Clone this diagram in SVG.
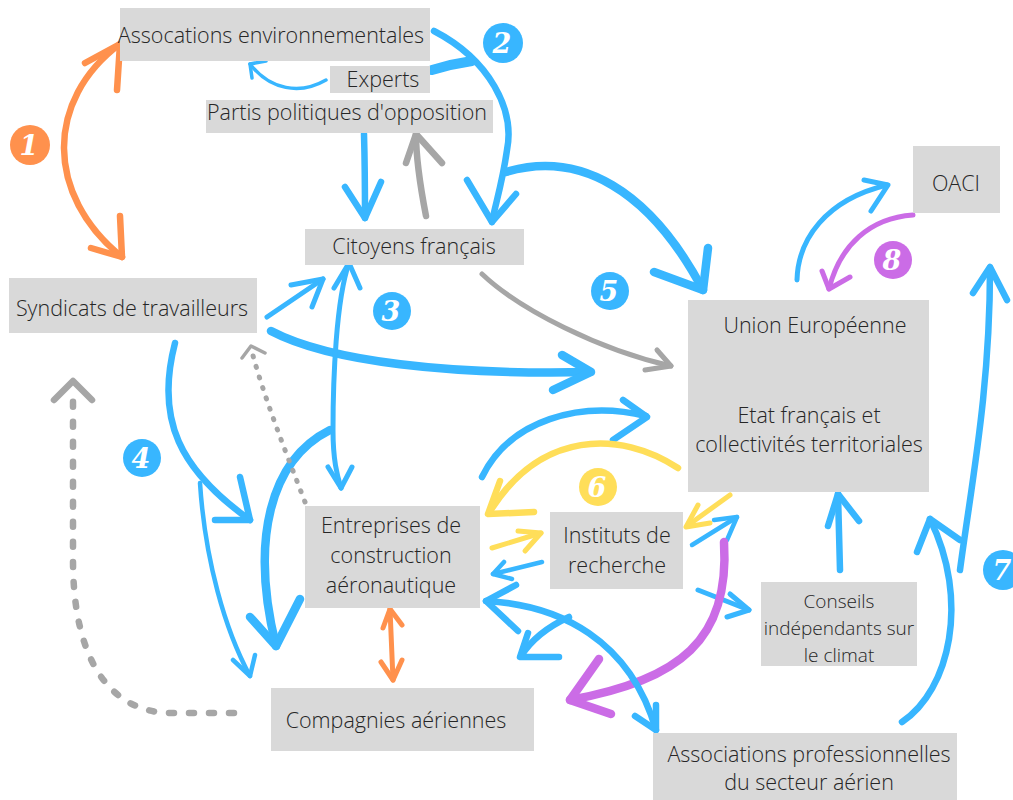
<svg xmlns="http://www.w3.org/2000/svg" width="1013" height="800" viewBox="0 0 1013 800">
<style>
.box{fill:#D9D9D9}
.t{font-family:"Open Sans","Liberation Sans",sans-serif;font-weight:300;font-size:21.5px;fill:#262626;text-anchor:middle}
.ts{font-size:19px}
.c{fill:none;stroke-linecap:round;stroke-linejoin:round}
.b{stroke:#38B6FF}.g{stroke:#A6A6A6}.o{stroke:#FF914D}.y{stroke:#FFDE59}.p{stroke:#CB6CE6}
.w3{stroke-width:3.5}.w4{stroke-width:4.5}.w5{stroke-width:5}.w6{stroke-width:6.5}.w8{stroke-width:8.5}.w10{stroke-width:10}
.dot{stroke-dasharray:1 10}.dash{stroke-dasharray:5 15}
.badge text{font-family:"DejaVu Serif",serif;font-style:italic;font-weight:bold;font-size:27px;fill:#fff;text-anchor:middle}
</style>
<rect width="1013" height="800" fill="#fff"/>
<g id="connectors">
<path class="c o w6" d="M120,44 C45,100 45,195 122,257"/>
<path class="c o w6" d="M85,63 L120,44 L117,90"/>
<path class="c o w6" d="M91,248 L122,257 L120,216"/>
<path class="c b w6" d="M434,31 C490,60 515,110 507,150 C502,185 495,205 492,222"/>
<path class="c b w6" d="M467,180 L492,222 L516,194"/>
<path class="c b w10" d="M432,70 C445,66 458,63 472,61"/>
<path class="c b w3" d="M326,80 C300,95 270,90 250,64"/>
<path class="c b w3" d="M266,61 L250,64 L252,78"/>
<path class="c b w6" d="M364,134 C365,170 365,195 365,218"/>
<path class="c b w6" d="M345,187 L365,218 L381,182"/>
<path class="c g w6" d="M426,216 C420,185 416,160 416,134"/>
<path class="c g w6" d="M406,163 L416,134 L442,163"/>
<path class="c b w8" d="M506,172 C580,150 650,190 703,290"/>
<path class="c b w8" d="M654,272 L703,290 L708,248"/>
<path class="c b w8" d="M271,331 C330,362 450,375 590,372"/>
<path class="c b w8" d="M562,355 L591,372 L553,390"/>
<path class="c g w5" d="M482,274 C520,310 600,350 671,366"/>
<path class="c g w5" d="M657,350 L671,366 L645,370"/>
<path class="c b w5" d="M267,317 L323,279"/>
<path class="c b w5" d="M291,285 L323,279 L312,307"/>
<path class="c b w5" d="M349,263 C336,300 333,380 333,430 C333,460 337,475 341,488"/>
<path class="c b w5" d="M334,288 L349,263 L360,288"/>
<path class="c b w5" d="M328,467 L341,488 L352,467"/>
<path class="c b w6" d="M175,343 C155,420 180,470 250,520"/>
<path class="c b w6" d="M240,477 L250,520 L215,520"/>
<path class="c b w4" d="M200,483 C205,560 225,630 250,676"/>
<path class="c b w4" d="M233,660 L250,676 L255,655"/>
<path class="c b w8" d="M330,430 C270,460 250,540 276,646"/>
<path class="c b w8" d="M250,617 L276,646 L300,599"/>
<path class="c g w5 dot" d="M305,502 C285,450 265,400 252,352"/>
<path class="c g w3" d="M242,358 L251,346 L265,353"/>
<path class="c g w6 dash" d="M234,713 L170,713 C110,712 73,660 73,560 L73,398"/>
<path class="c g w6" d="M54,400 L73,381 L92,400"/>
<path class="c b w5" d="M797,280 C798,240 825,200 887,185"/>
<path class="c b w5" d="M864,180 L888,185 L871,211"/>
<path class="c p w5" d="M913,215 C870,218 840,245 829,289"/>
<path class="c p w5" d="M822,271 L829,289 L850,277"/>
<path class="c p w5" d="M790,350 L788,399"/>
<path class="c p w5" d="M778,381 L788,399 L800,381"/>
<path class="c b w5" d="M832,398 L830,346"/>
<path class="c b w5" d="M823,370 L830,346 L846,366"/>
<path class="c b w6" d="M840,570 L838,494"/>
<path class="c b w6" d="M828,526 L838,494 L859,521"/>
<path class="c b w6" d="M960,570 C972,480 990,390 990,268"/>
<path class="c b w6" d="M973,293 L990,267 L1007,300"/>
<path class="c b w6" d="M902,722 C950,690 970,600 930,519"/>
<path class="c b w6" d="M917,552 L930,519 L960,540"/>
<path class="c b w6" d="M482,477 C510,420 580,400 646,416"/>
<path class="c b w6" d="M623,400 L647,417 L613,440"/>
<path class="c y w6" d="M678,468 C620,430 540,430 489,513"/>
<path class="c y w6" d="M500,481 L488,514 L534,512"/>
<path class="c y w5" d="M730,495 L687,526"/>
<path class="c y w5" d="M698,505 L686,527 L710,523"/>
<path class="c y w5" d="M492,548 L541,533"/>
<path class="c y w5" d="M518,531 L541,533 L525,551"/>
<path class="c b w4" d="M542,562 L493,574"/>
<path class="c b w4" d="M504,562 L493,574 L512,579"/>
<path class="c b w4" d="M692,545 L737,517"/>
<path class="c b w4" d="M714,520 L737,517 L727,540"/>
<path class="c b w5" d="M698,590 L749,610"/>
<path class="c b w5" d="M730,594 L749,610 L727,617"/>
<path class="c p w8" d="M724,542 C730,640 680,680 570,700"/>
<path class="c p w8" d="M599,659 L570,700 L611,714"/>
<path class="c b w6" d="M486,601 C560,605 630,640 656,730"/>
<path class="c b w6" d="M516,585 L486,601 L518,631"/>
<path class="c b w6" d="M635,716 L656,730 L656,705"/>
<path class="c b w6" d="M569,617 C545,628 530,642 521,656"/>
<path class="c b w6" d="M528,633 L520,657 L559,657"/>
<path class="c o w5" d="M390,609 L393,680"/>
<path class="c o w5" d="M383,628 L390,609 L402,625"/>
<path class="c o w5" d="M381,662 L393,680 L402,660"/>
</g>
<g id="n-assoc-env"><rect class="box" x="120" y="8" width="310" height="53"/><text class="t" x="271" y="43">Assocations environnementales</text></g>
<g id="n-experts"><rect class="box" x="330" y="66" width="100" height="27"/><text class="t" x="383" y="87">Experts</text></g>
<g id="n-partis"><rect class="box" x="206" y="100" width="287" height="33"/><text class="t" x="347" y="120">Partis politiques d'opposition</text></g>
<g id="n-citoyens"><rect class="box" x="305" y="229" width="219" height="36"/><text class="t" x="414" y="254">Citoyens français</text></g>
<g id="n-syndicats"><rect class="box" x="9" y="278" width="248" height="55"/><text class="t" x="132" y="316">Syndicats de travailleurs</text></g>
<g id="n-oaci"><rect class="box" x="913" y="146" width="87" height="67"/><text class="t" x="956" y="191">OACI</text></g>
<g id="n-ue"><rect class="box" x="688" y="300" width="241" height="192"/><text class="t" x="815" y="333">Union Européenne</text><text class="t" x="809" y="423">Etat français et</text><text class="t" x="809" y="452">collectivités territoriales</text></g>
<g id="n-entreprises"><rect class="box" x="305" y="506" width="175" height="102"/><text class="t" x="391" y="533">Entreprises de</text><text class="t" x="391" y="563">construction</text><text class="t" x="391" y="593">aéronautique</text></g>
<g id="n-instituts"><rect class="box" x="550" y="512" width="133" height="77"/><text class="t" x="617" y="543">Instituts de</text><text class="t" x="617" y="573">recherche</text></g>
<g id="n-conseils"><rect class="box" x="761" y="582" width="156" height="84"/><text class="t ts" x="839" y="608">Conseils</text><text class="t ts" x="839" y="635">indépendants sur</text><text class="t ts" x="839" y="662">le climat</text></g>
<g id="n-compagnies"><rect class="box" x="271" y="688" width="263" height="63"/><text class="t" x="396" y="728">Compagnies aériennes</text></g>
<g id="n-assoc-pro"><rect class="box" x="653" y="733" width="304" height="67"/><text class="t" x="809" y="762">Associations professionnelles</text><text class="t" x="809" y="790">du secteur aérien</text></g>
<g id="badges" class="badge">
<g><circle cx="30" cy="145" r="20" fill="#FF914D"/><text x="29" y="155">1</text></g>
<g><circle cx="503" cy="43" r="20" fill="#38B6FF"/><text x="502" y="53">2</text></g>
<g><circle cx="392" cy="311" r="19" fill="#38B6FF"/><text x="391" y="321">3</text></g>
<g><circle cx="142" cy="458" r="19" fill="#38B6FF"/><text x="141" y="468">4</text></g>
<g><circle cx="610" cy="291" r="19" fill="#38B6FF"/><text x="609" y="301">5</text></g>
<g><circle cx="598" cy="487" r="19" fill="#FFDE59"/><text x="597" y="497">6</text></g>
<g><circle cx="1003" cy="570" r="20" fill="#38B6FF"/><text x="1002" y="580">7</text></g>
<g><circle cx="893" cy="260" r="19" fill="#CB6CE6"/><text x="892" y="270">8</text></g>
</g>
</svg>
